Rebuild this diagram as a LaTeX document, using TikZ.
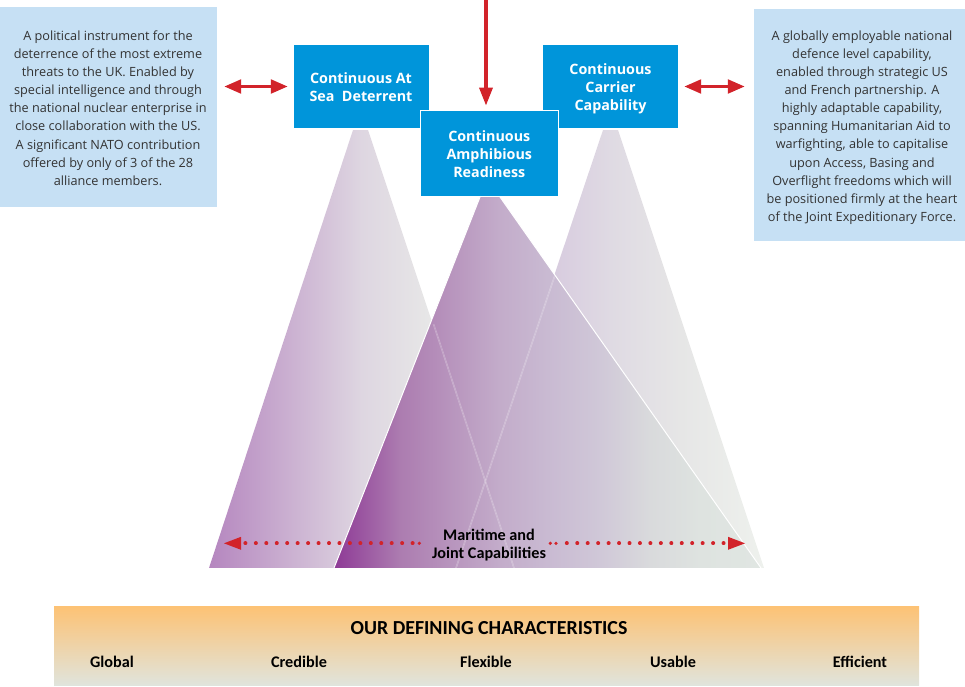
\documentclass[tikz,border=0pt]{standalone}
\usepackage{fontspec}
\setmainfont{Open Sans}
\newfontfamily\headfont{Carlito}
\usetikzlibrary{arrows.meta}
\definecolor{capblue}{HTML}{0095DA}
\definecolor{infoblue}{HTML}{C6E0F4}
\definecolor{txtgrey}{HTML}{333333}
\definecolor{redarrow}{HTML}{D2232A}
\definecolor{la}{HTML}{B586BF}\definecolor{lb}{HTML}{DED6E1}\definecolor{lc}{HTML}{E7E7E7}\definecolor{ld}{HTML}{EAEBE9}
\definecolor{ra}{HTML}{C4A8CC}\definecolor{rb}{HTML}{D8CCDF}\definecolor{rc}{HTML}{DFDAE3}\definecolor{rd}{HTML}{E6E6E6}\definecolor{re}{HTML}{EEF1ED}
\definecolor{ca}{HTML}{8E3A96}\definecolor{cb}{HTML}{AC7CB0}\definecolor{cc}{HTML}{C3ACCA}\definecolor{cd}{HTML}{C9BAD2}\definecolor{ce}{HTML}{D0C8D8}\definecolor{cf}{HTML}{D9DADC}\definecolor{cg}{HTML}{DEE3E0}\definecolor{ch}{HTML}{E0E6E2}
\pgfdeclarehorizontalshading{leftshade}{100bp}{color(0bp)=(la);color(25bp)=(la);color(50bp)=(lb);color(61.3bp)=(lc);color(75bp)=(ld);color(100bp)=(ld)}
\pgfdeclarehorizontalshading{rightshade}{100bp}{color(0bp)=(ra);color(25bp)=(ra);color(41bp)=(rb);color(50bp)=(rc);color(61.5bp)=(rd);color(75bp)=(re);color(100bp)=(re)}
\pgfdeclarehorizontalshading{midshade}{100bp}{color(0bp)=(ca);color(25bp)=(ca);color(32.7bp)=(cb);color(44.4bp)=(cc);color(50bp)=(cd);color(56.2bp)=(ce);color(62bp)=(cf);color(67.9bp)=(cg);color(75bp)=(ch);color(100bp)=(ch)}
\tikzset{
  capbox/.style={fill=capblue,inner sep=0pt,draw=white,line width=0.4pt},
  captext/.style={text=white,font=\fontsize{14.3}{18}\selectfont\bfseries,align=center,inner sep=0pt},
  infobox/.style={fill=infoblue,inner sep=0pt},
  infotext/.style={text=txtgrey,font=\fontsize{12.7}{18.15}\selectfont,align=center,inner sep=0pt},
  redboth/.style={draw=redarrow,line width=3.6pt,{Triangle[length=17pt,width=13.5pt]}-{Triangle[length=17pt,width=13.5pt]}},
  reddown/.style={draw=redarrow,line width=3.4pt,-{Triangle[length=18pt,width=13pt]}},
  reddots/.style={draw=redarrow,line width=3.8pt,line cap=round,dash pattern=on 0.2pt off 10.25pt},
  reddot/.style={fill=redarrow,draw=none},
  redtip/.style={fill=redarrow,draw=none},
  edgeline/.style={draw=white,line width=1pt},
  thinedge/.style={draw=white,opacity=0.28,line width=0.6pt},
  headtext/.style={font=\headfont\bfseries\fontsize{16.2}{18}\selectfont,text=black,inner sep=0pt,align=center},
}
\begin{document}
\begin{tikzpicture}[x=1pt,y=-1pt]
\useasboundingbox (0,0) rectangle (965,686);
% trapezoids
\path[shading=leftshade,shading angle=0] (353,130) -- (368,130) -- (514,568) -- (209,568) -- cycle;
\path[shading=rightshade,shading angle=0] (603,130) -- (618,130) -- (764,568) -- (456,568) -- cycle;
\path[shading=midshade,shading angle=0] (480,197) -- (500,197) -- (761,568) -- (334,568) -- cycle;
\draw[thinedge,xshift=-0.5pt] (433.5,324) -- (514,568);
\draw[thinedge,xshift=0.5pt] (433.5,324) -- (514,568);
\draw[thinedge,xshift=-0.5pt] (555,275) -- (456,568);
\draw[thinedge,xshift=0.5pt] (555,275) -- (456,568);
\draw[edgeline] (480,197) -- (334,568);
\draw[edgeline] (500,197) -- (761,568);
\draw[draw=white,line width=0.7pt] (209,568.3) -- (764,568.3);
% info boxes
\node[infobox,minimum width=217pt,minimum height=200pt] (leftinfo) at (108.5,107) {};
\node[infotext] (lefttext) at (108,108) {A political instrument for the\\deterrence of the most extreme\\threats to the UK. Enabled by\\special intelligence and through\\the national nuclear enterprise in\\close collaboration with the US.\\A significant NATO contribution\\offered by only of 3 of the 28\\alliance members.};
\node[infobox,minimum width=211pt,minimum height=232pt] (rightinfo) at (859.5,125) {};
\node[infotext] (righttext) at (862,127.5) {A globally employable national\\defence level capability,\\enabled through strategic US\\and French partnership. A\\highly adaptable capability,\\spanning Humanitarian Aid to\\warfighting, able to capitalise\\upon Access, Basing and\\Overflight freedoms which will\\be positioned firmly at the heart\\of the Joint Expeditionary Force.};
% capability boxes
\node[capbox,minimum width=136pt,minimum height=84pt] (casd) at (361,86.5) {};
\node[captext] (casdtext) at (361,87.5) {Continuous At\\Sea\ \ Deterrent};
\node[capbox,minimum width=136pt,minimum height=84pt] (ccc) at (610.5,86.5) {};
\node[captext] (ccctext) at (610.5,89) {Continuous\\Carrier\\Capability};
\node[capbox,minimum width=138pt,minimum height=86pt,line width=0.8pt] (car) at (489.3,153) {};
\node[captext] (cartext) at (489.3,154.3) {Continuous\\Amphibious\\Readiness};
% arrows
\coordinate (topin) at (486,0);
\draw[reddown,shorten >=4pt] (topin) -- (topin |- car.north);
\draw[redboth,shorten <=7pt,shorten >=5pt] (leftinfo.east |- casd.west) -- (casd.west);
\draw[redboth,shorten <=5.5pt,shorten >=9pt] (ccc.east) -- (rightinfo.west |- ccc.east);
% capabilities label and dotted arrows
\node[headtext] (mjc) at (489,545) {Maritime and\\Joint Capabilities};
\coordinate (dotl) at (224,543.3);
\coordinate (dotr) at (745,543.3);
\draw[reddots] (245.3,543.3) -- (413.5,543.3);
\draw[reddots] (566.7,543.3) -- (724,543.3);
\fill[reddot] (419.3,543.3) circle (1.8pt);
\fill[reddot] (550.3,543.3) circle (1.8pt);
\fill[reddot] (556,543.3) circle (1.8pt);
\fill[redtip] (dotl) -- (241,536.8) -- (241,549.8) -- cycle;
\fill[redtip] (dotr) -- (728,536.8) -- (728,549.8) -- cycle;
% characteristics bar
\shade[top color={rgb,255:red,253;green,194;blue,116},bottom color={rgb,255:red,224;green,228;blue,220}] (54,606) rectangle (919,685);
\node[headtext,font=\headfont\bfseries\fontsize{19.9}{20}\selectfont] (title) at (489,628) {OUR DEFINING CHARACTERISTICS};
\node[headtext] (c1) at (112,662) {Global};
\node[headtext] (c2) at (299,662) {Credible};
\node[headtext] (c3) at (486,662) {Flexible};
\node[headtext] (c4) at (673,662) {Usable};
\node[headtext] (c5) at (860,662) {Efficient};
\end{tikzpicture}
\end{document}
